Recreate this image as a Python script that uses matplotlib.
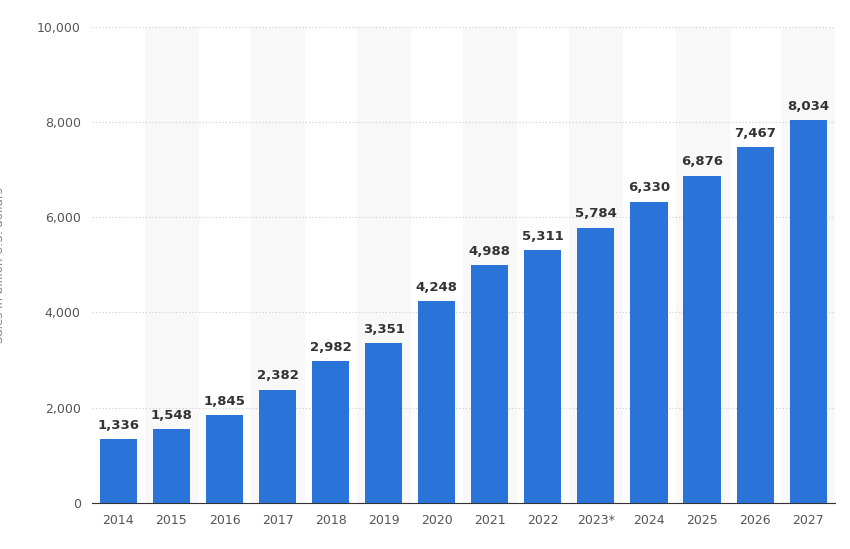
import matplotlib
matplotlib.use("Agg")
import matplotlib.pyplot as plt

years = ["2014","2015","2016","2017","2018","2019","2020","2021","2022","2023*","2024","2025","2026","2027"]
sales = [1336,1548,1845,2382,2982,3351,4248,4988,5311,5784,6330,6876,7467,8034]
yticks = [0,2000,4000,6000,8000,10000]

fig = plt.figure(figsize=(8.5,5.49), dpi=100)
ax = fig.add_axes([0.108,0.084,0.874,0.867])
x = list(range(len(years)))
for i in x:
    if i % 2 == 1:
        ax.axvspan(i-0.5, i+0.5, color="#f8f8f8", zorder=0)
ax.bar(x, sales, width=0.7, color="#2a74d9", zorder=3)
for i, v in zip(x, sales):
    ax.text(i, v+150, f"{v:,}", ha="center", va="bottom", fontsize=9.5, fontweight="bold", color="#333333", zorder=4)
ax.set_xlim(-0.5, len(years)-0.5)
ax.set_ylim(0, 10000)
ax.set_yticks(yticks)
ax.set_yticklabels([f"{t:,}" for t in yticks])
ax.set_xticks(x)
ax.set_xticklabels(years)
ax.tick_params(length=0, labelsize=9, colors="#555555", pad=8)
ax.yaxis.grid(True, linestyle=(0,(1,2)), color="#cccccc", zorder=1)
for s in ax.spines.values():
    s.set_visible(False)
ax.spines["bottom"].set_visible(True)
ax.spines["bottom"].set_color("#333333")
ax.set_ylabel("Sales in billion U.S. dollars", fontsize=8.5, color="#888888", labelpad=22)
fig.savefig("out.png", dpi=100)
